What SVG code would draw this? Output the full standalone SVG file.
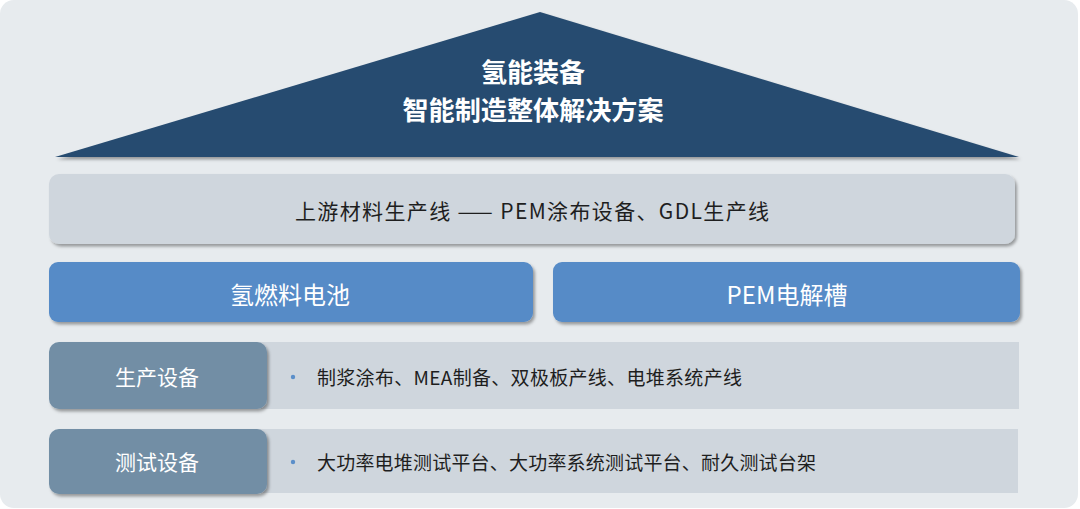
<svg xmlns="http://www.w3.org/2000/svg" width="1080" height="509" viewBox="0 0 1080 509">
<defs>
<filter id="sh" x="-5%" y="-10%" width="110%" height="130%">
<feDropShadow dx="2" dy="2.5" stdDeviation="1.5" flood-color="#000" flood-opacity="0.35"/>
</filter>
<style>
text{font-family:"Noto Sans CJK SC","Noto Sans",sans-serif;text-anchor:middle;dominant-baseline:central}
.title{fill:#fff;font-size:26px;font-weight:bold}
.bar{fill:#cfd6dd}
.blue{fill:#568bc7}
.cat{fill:#728ea5}
.wt{fill:#fff}
.dk{fill:#1e1e1e}
.item{fill:#1e1e1e;font-size:19px;text-anchor:start}
.bul{fill:#5b8fc9}
</style>
</defs>
<rect width="1080" height="509" fill="#ffffff"/>
<rect x="0" y="0" width="1078" height="508" rx="14" fill="#e7ebee"/>
<g id="roof">
<polygon points="540,12 1019,157 55,157" fill="#284c70" filter="url(#sh)"/>
<text class="title" x="533" y="70" textLength="104" lengthAdjust="spacingAndGlyphs">氢能装备</text>
<text class="title" x="533" y="108" textLength="261" lengthAdjust="spacingAndGlyphs">智能制造整体解决方案</text>
</g>
<g id="upstream">
<rect class="bar" x="49" y="174" width="966" height="70" rx="10" filter="url(#sh)"/>
<text class="dk" x="532" y="210" font-size="21" textLength="474" lengthAdjust="spacing">上游材料生产线 —— PEM涂布设备、GDL生产线</text>
</g>
<g id="fuelcell">
<rect class="blue" x="49" y="262" width="484" height="60" rx="9" filter="url(#sh)"/>
<text class="wt" x="290" y="293" font-size="24">氢燃料电池</text>
</g>
<g id="electrolyzer">
<rect class="blue" x="553" y="262" width="467" height="60" rx="9" filter="url(#sh)"/>
<text class="wt" x="787" y="293" font-size="24">PEM电解槽</text>
</g>
<g id="production">
<rect class="bar" x="255" y="342" width="764" height="67"/>
<rect class="cat" x="49" y="342" width="218" height="67" rx="10" filter="url(#sh)"/>
<text class="wt" x="157" y="376" font-size="21">生产设备</text>
<circle class="bul" cx="293" cy="377" r="2.2"/>
<text class="item" x="317" y="376" textLength="425" lengthAdjust="spacing">制浆涂布、MEA制备、双极板产线、电堆系统产线</text>
</g>
<g id="testing">
<rect class="bar" x="255" y="429" width="763" height="64"/>
<rect class="cat" x="49" y="429" width="218" height="65" rx="10" filter="url(#sh)"/>
<text class="wt" x="157" y="461" font-size="21">测试设备</text>
<circle class="bul" cx="293" cy="462" r="2.2"/>
<text class="item" x="317" y="461" textLength="499" lengthAdjust="spacing">大功率电堆测试平台、大功率系统测试平台、耐久测试台架</text>
</g>
<g id="connectors"/>
</svg>
